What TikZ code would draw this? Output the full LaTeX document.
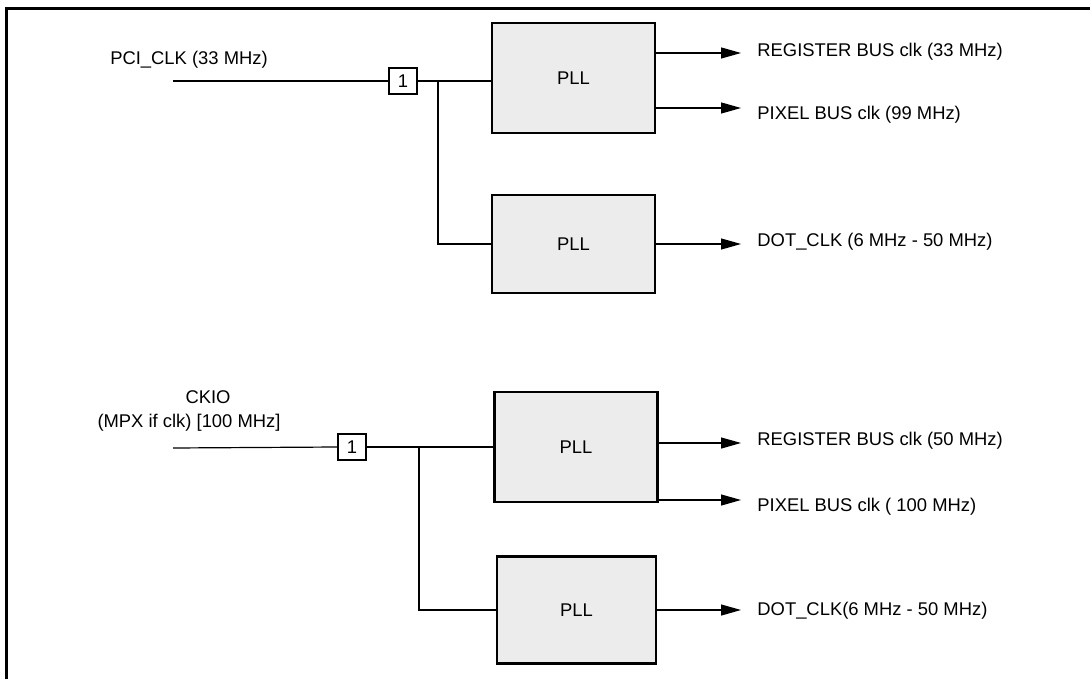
\documentclass[tikz,border=0pt]{standalone}
\usepackage{fontspec}
\setmainfont{Liberation Sans}
\usetikzlibrary{positioning,arrows.meta}

\begin{document}
\begin{tikzpicture}[
        x=0.5pt, y=-0.5pt,
        every node/.style={align=center, font=\fontsize{9.2}{11}\selectfont},
        pll/.style={rectangle, draw, line width=1.2pt, fill=gray!15, minimum width=81.5pt, minimum height=55pt},
        buf/.style={rectangle, draw, line width=1.1pt, minimum width=14pt, minimum height=13pt, inner sep=0pt},
        sig/.style={anchor=west, inner sep=0pt},
        wire/.style={line width=0.6pt},
        outarrow/.style={line width=0.6pt, -{Triangle[length=10pt, width=5.5pt]}}
    ]
    \useasboundingbox (0,0) rectangle (1090,679);

    % Frame
    \draw[line width=1.5pt] (6,679) -- (6,9) -- (1090,9);

    % Top group (PCI clock)
    \node (pciclk) at (189,60) {PCI\_CLK (33 MHz)};
    \coordinate (pcistart) at (173,81);
    \node[buf] (buf1) at (403,81) {1};
    \coordinate (split1) at (438,81);
    \node[pll] (pll1) at (573.5,78) {PLL};
    \node[pll, minimum height=49pt] (pll2) at (573.5,244) {PLL};

    \node[sig] (reg1) at (757,52) {REGISTER BUS clk (33 MHz)};
    \node[sig] (pix1) at (757,115) {PIXEL BUS clk (99 MHz)};
    \node[sig] (dot1) at (757,242) {DOT\_CLK (6 MHz - 50 MHz)};
    \coordinate (reg1tip) at (741,53);
    \coordinate (pix1tip) at (741,108);
    \coordinate (dot1tip) at (741,244);

    \draw[wire] (pcistart) -- (buf1.west);
    \draw[wire] (buf1.east) -- (pll1.west |- buf1);
    \draw[wire] (split1) |- (pll2.west);
    \draw[outarrow] (pll1.east |- reg1tip) -- (reg1tip);
    \draw[outarrow] (pll1.east |- pix1tip) -- (pix1tip);
    \draw[outarrow] (pll2.east |- dot1tip) -- (dot1tip);

    % Bottom group (CKIO)
    \node (ckio) at (208,397) {CKIO};
    \node (ckiosrc) at (189,423) {(MPX if clk) [100 MHz]};
    \coordinate (ckiostart) at (173,448);
    \node[buf] (buf2) at (352,447) {1};
    \coordinate (split2) at (419,448);
    \node[pll] (pll3) at (576,447) {PLL};
    \node[pll, minimum width=79.5pt, minimum height=53.5pt] (pll4) at (576.5,610) {PLL};

    \node[sig] (reg2) at (757,441) {REGISTER BUS clk (50 MHz)};
    \node[sig] (pix2) at (757,507) {PIXEL BUS clk ( 100 MHz)};
    \node[sig] (dot2) at (757,611) {DOT\_CLK(6 MHz - 50 MHz)};
    \coordinate (reg2tip) at (741,443);
    \coordinate (pix2tip) at (741,500);
    \coordinate (dot2tip) at (741,610);

    \draw[wire] (ckiostart) -- (buf2.west);
    \draw[wire] (buf2.east) -- (pll3.west |- buf2);
    \draw[wire] (split2) |- (pll4.west);
    \draw[outarrow] (pll3.east |- reg2tip) -- (reg2tip);
    \draw[outarrow] (pll3.east |- pix2tip) -- (pix2tip);
    \draw[outarrow] (pll4.east |- dot2tip) -- (dot2tip);

    \end{tikzpicture}
\end{document}
